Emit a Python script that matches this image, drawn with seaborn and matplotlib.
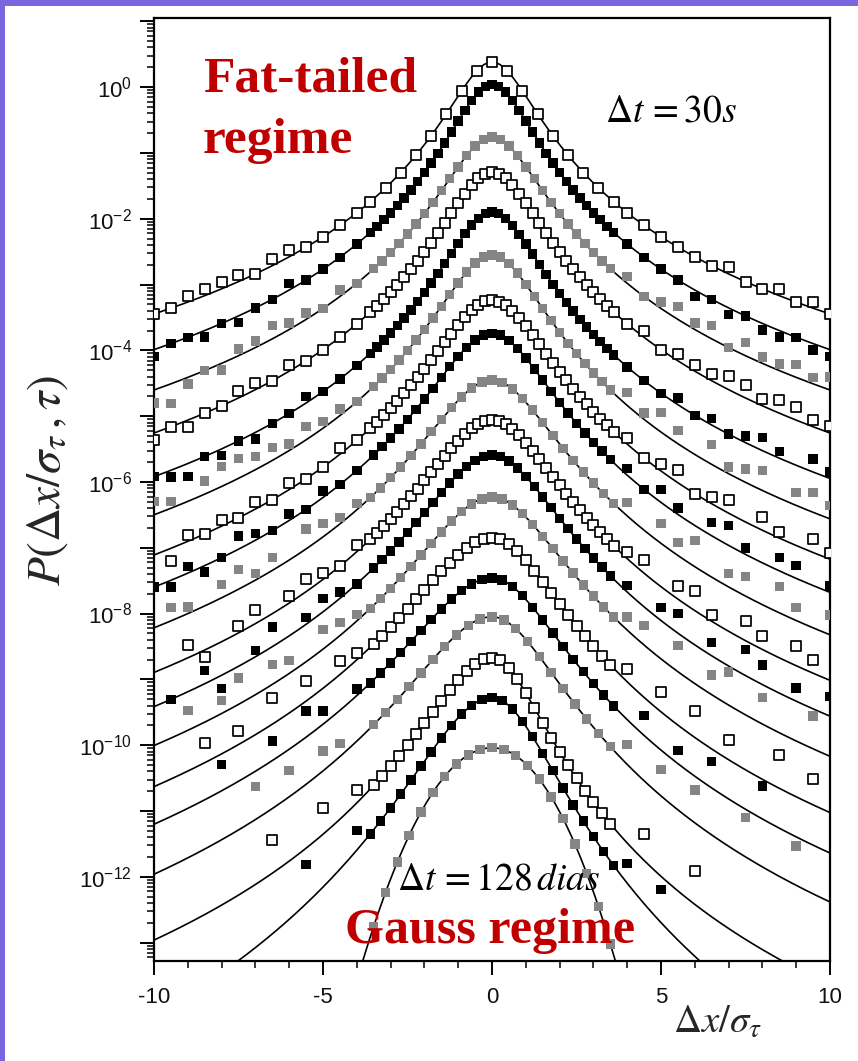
import numpy as np
import pandas as pd
import matplotlib
matplotlib.use("Agg")
import matplotlib.pyplot as plt
import seaborn as sns
from matplotlib.patches import Rectangle
from matplotlib.ticker import LogLocator, MultipleLocator, FuncFormatter, NullFormatter

sns.set_theme(style="white")
plt.rcParams['font.family'] = ['Liberation Sans', 'DejaVu Sans']
plt.rcParams['mathtext.fontset'] = 'custom'
plt.rcParams['mathtext.rm'] = 'Liberation Sans'
plt.rcParams['mathtext.it'] = 'Liberation Sans:italic'

_ = None

# Tsallis (q-Gaussian) fits, from Δt = 30 s (top) down to Δt = 128 dias (bottom)
peak_log10 = [0.38, 0.04, -0.76, -1.29, -1.90, -2.55, -3.24, -3.74, -4.45,
              -5.06, -5.59, -6.23, -6.85, -7.46, -8.05, -8.67, -9.28, -10.04]
q_index = [1.50, 1.48, 1.47, 1.46, 1.45, 1.44, 1.43, 1.42, 1.41,
           1.40, 1.39, 1.38, 1.37, 1.36, 1.35, 1.35, 1.28, 1.00]
beta_left = [1.62, 1.77, 1.34, 1.43, 1.41, 1.22, 1.05, 0.97, 0.83,
             0.83, 0.77, 0.69, 0.65, 0.59, 0.64, 0.88, 0.77, 0.51]
beta_right = [1.62, 1.77, 1.34, 1.43, 1.45, 1.30, 1.12, 1.05, 0.92,
              0.93, 0.88, 0.80, 0.92, 0.86, 0.91, 1.55, 1.15, 0.56]

# symbol used for each empirical distribution
marker_kind = ['open', 'black', 'gray'] * 6
# bin width of the central histogram bins
bin_width = [0.45, 0.2, 0.25, 0.2, 0.2, 0.25, 0.2, 0.25, 0.3,
             0.2, 0.25, 0.3, 0.25, 0.3, 0.35, 0.25, 0.3, 0.35]

# tail bins: deviation from the fit, in tenths of a decade
tail_x = [4.0, 4.5, 5.0, 5.5, 6.0, 6.5, 7.0, 7.5, 8.0, 8.5, 9.0, 9.5, 10.0]
tail_left = [  # listed from x = -10 up to x = -4
    [0, 0, 1, 1, 1, 1, 0, 1, 1, 0, 0, 0, 0],
    [-1, 0, 0, -1, 0, -1, 0, 0, 1, 0, 0, 0, 0],
    [-2, -3, -1, 0, -1, 1, 1, 2, 1, 1, 0, 1, 0],
    [-1, 0, -1, 0, 0, 1, 1, 0, 1, 0, 0, 0, 0],
    [0, -1, -2, 0, -1, 0, -1, 0, 0, 1, 0, 0, 0],
    [2, 1, _, 2, 3, 3, 2, 2, 1, 2, 1, 1, 0],
    [_, -2, 1, 0, 1, 0, 1, 0, 1, 0, 0, 1, 0],
    [0, -1, 1, -1, 0, 2, 1, 0, 1, 0, 1, 0, 0],
    [_, 2, 1, _, 2, 3, 1, 2, _, 3, 2, 1, 1],
    [_, _, 2, -1, _, 1, 2, _, 1, 2, 1, 0, 1],
    [_, 0, _, 2, -2, _, 1, 3, _, 1, 2, 1, 0],
    [_, _, 3, _, 2, 4, _, 3, 2, _, 3, 2, 1],
    [_, _, _, 3, _, 2, _, 4, _, 3, _, 2, 1],
    [_, _, _, _, 4, _, _, 3, _, 4, 2, _, 1],
    [_, _, _, _, _, _, 5, _, 4, _, 3, 2, _],
    [_, _, _, _, _, _, _, 5, _, _, 4, _, 2],
    [_, _, _, _, _, _, _, _, _, 6, _, _, 3],
    [_, _, _, _, _, _, _, _, _, _, _, _, 2],
]
tail_right = [  # listed from x = 4 up to x = 10
    [0, 0, 0, 0, 0, 0, 1, 0, 0, 1, 0, 1, 0],
    [0, 0, 0, 0, -1, 0, -1, 0, -1, -1, 0, -1, -1],
    [1, 0, 1, 2, 1, 2, 0, 2, 1, 1, 2, 1, 2],
    [0, 1, 0, 1, 1, 1, 2, 2, 1, 2, 2, 1, 1],
    [0, 0, 0, 1, 0, 1, 0, 1, 2, 1, _, 2, 1],
    [2, 1, 3, 2, _, 3, 1, 2, 3, _, 2, 3, 2],
    [1, 0, 1, 2, 0, 1, 2, _, 2, 1, _, 2, 1],
    [1, 0, 2, 1, _, 2, 3, 1, _, 2, 2, _, 1],
    [2, _, 3, 2, 4, _, 2, 3, _, 4, 2, _, 3],
    [1, 2, _, 2, 3, 1, _, 3, 2, _, 3, 2, _],
    [1, _, 2, 3, _, 2, _, 4, 3, _, 2, _, 3],
    [2, 3, _, 4, _, 3, 5, _, 4, _, _, 5, _],
    [2, _, 3, _, 4, _, 3, _, _, 5, _, 4, _],
    [_, 3, _, 2, _, 4, _, _, 5, _, _, _, _],
    [3, _, 4, _, 5, _, _, 6, _, _, 6, _, _],
    [_, 4, _, _, 5, _, _, _, _, _, _, _, _],
    [3, _, 5, _, _, _, _, _, _, _, _, _, _],
    [2, _, _, _, _, _, _, _, _, _, _, _, _],
]

y_tick_exponents = [0, -2, -4, -6, -8, -10, -12]


def tsallis(x, log_amp, q, b_left, b_right):
    b = np.where(x < 0, b_left, b_right)
    if abs(q - 1.0) < 1e-9:
        return 10.0 ** log_amp * np.exp(-b * x ** 2)
    return 10.0 ** log_amp * (1.0 + (q - 1.0) * b * x ** 2) ** (-1.0 / (q - 1.0))


# fitted curves
x_fit = np.linspace(-10, 10, 1201)
line_rows = []
for i in range(len(peak_log10)):
    y = tsallis(x_fit, peak_log10[i], q_index[i], beta_left[i], beta_right[i])
    line_rows.append(pd.DataFrame({'x': x_fit, 'p': y, 'curve': i}))
lines = pd.concat(line_rows, ignore_index=True)

# empirical histograms
pt_rows = []
for i in range(len(peak_log10)):
    w = bin_width[i]
    xc = np.arange(-3.6, 3.6 + 1e-6, w)
    xc = xc - xc.mean()
    rc = np.zeros_like(xc)
    xl = -np.array(tail_x[::-1])
    xr = np.array(tail_x)
    rl = np.array([np.nan if v is None else v for v in tail_left[i]], float) / 10
    rr = np.array([np.nan if v is None else v for v in tail_right[i]], float) / 10
    xs = np.concatenate([xl, xc, xr])
    rs = np.concatenate([rl, rc, rr])
    keep = ~np.isnan(rs)
    xs, rs = xs[keep], rs[keep]
    ps = tsallis(xs, peak_log10[i], q_index[i], beta_left[i], beta_right[i]) * 10 ** rs
    pt_rows.append(pd.DataFrame({'x': xs, 'p': ps, 'kind': marker_kind[i], 'curve': i}))
points = pd.concat(pt_rows, ignore_index=True)

fig = plt.figure(figsize=(8.58, 10.61), dpi=100)
fig.patch.set_facecolor('white')
ax = fig.add_axes([154 / 858, 1 - 961 / 1061, (830 - 154) / 858, (961 - 18) / 1061])
ax.set_facecolor('white')

sns.lineplot(data=lines, x='x', y='p', units='curve', estimator=None,
             color='black', linewidth=1.2, ax=ax, legend=False, zorder=2)

styles = {
    'gray': dict(color='#858585', edgecolor='none', linewidth=0),
    'black': dict(color='black', edgecolor='none', linewidth=0),
    'open': dict(color='white', edgecolor='black', linewidth=1.25),
}
for kind in ['gray', 'black', 'open']:
    sub = points[points['kind'] == kind]
    sns.scatterplot(data=sub, x='x', y='p', marker='s', s=46, ax=ax,
                    legend=False, zorder=3, **styles[kind])

ax.set_yscale('log')
ax.set_xlim(-10, 10)
ax.set_ylim(10 ** -13.28, 10 ** 1.05)
ax.set_xlabel('')
ax.set_ylabel('')

ax.xaxis.set_major_locator(MultipleLocator(5))
ax.xaxis.set_minor_locator(MultipleLocator(1))
ax.yaxis.set_major_locator(LogLocator(base=10, numticks=40))
ax.yaxis.set_minor_locator(LogLocator(base=10, subs=np.arange(2, 10), numticks=40))
ax.yaxis.set_minor_formatter(NullFormatter())


def ylab(v, pos):
    e = int(round(np.log10(v)))
    return r'$10^{%d}$' % e if e in y_tick_exponents else ''


ax.yaxis.set_major_formatter(FuncFormatter(ylab))
ax.xaxis.set_major_formatter(FuncFormatter(lambda v, p: '%d' % v))
ax.tick_params(axis='both', which='major', direction='out', length=10, width=1.4,
               color='black', labelsize=16, labelcolor='#111111', pad=6,
               left=True, bottom=True, top=False, right=False)
ax.tick_params(axis='x', which='major', pad=9)
ax.tick_params(axis='both', which='minor', direction='out', length=5, width=1.1,
               color='black', left=True, bottom=True, top=False, right=False)
for sp in ax.spines.values():
    sp.set_color('black')
    sp.set_linewidth(1.6)

# annotations
red = '#c00000'
ax.text(203 / 858, 1 - 92 / 1061, 'Fat-tailed', transform=fig.transFigure,
        family='Liberation Serif', fontweight='bold', fontsize=37, color=red,
        ha='left', va='baseline')
ax.text(203 / 858, 1 - 153 / 1061, 'regime', transform=fig.transFigure,
        family='Liberation Serif', fontweight='bold', fontsize=37, color=red,
        ha='left', va='baseline')
ax.text(605 / 858, 1 - 122 / 1061, r'$\Delta t\,=30s$', transform=fig.transFigure,
        fontsize=27, color='black', ha='left', va='baseline', math_fontfamily='stix')
ax.text(397 / 858, 1 - 890 / 1061, r'$\Delta t\,=128\,dias$', transform=fig.transFigure,
        fontsize=27, color='black', ha='left', va='baseline', math_fontfamily='stix')
ax.text(345 / 858, 1 - 943 / 1061, 'Gauss regime', transform=fig.transFigure,
        family='Liberation Serif', fontweight='bold', fontsize=36, color=red,
        ha='left', va='baseline')

fig.text(673 / 858, 1 - 1033 / 1061, r'$\Delta x/\sigma_\tau$', fontsize=28,
         ha='left', va='baseline', math_fontfamily='stix')
fig.text(48 / 858, 1 - 480 / 1061, r'$P(\Delta x/\sigma_\tau\,,\tau)$', fontsize=34,
         rotation=90, ha='center', va='center', math_fontfamily='stix')

# slide frame
purple = '#7b66e0'
fig.patches.append(Rectangle((0, 0), 5 / 858, 1, transform=fig.transFigure,
                             facecolor=purple, edgecolor='none', zorder=10))
fig.patches.append(Rectangle((0, 1 - 5.5 / 1061), 1, 5.5 / 1061, transform=fig.transFigure,
                             facecolor=purple, edgecolor='none', zorder=10))

fig.savefig('out.png', dpi=100, facecolor='white')
